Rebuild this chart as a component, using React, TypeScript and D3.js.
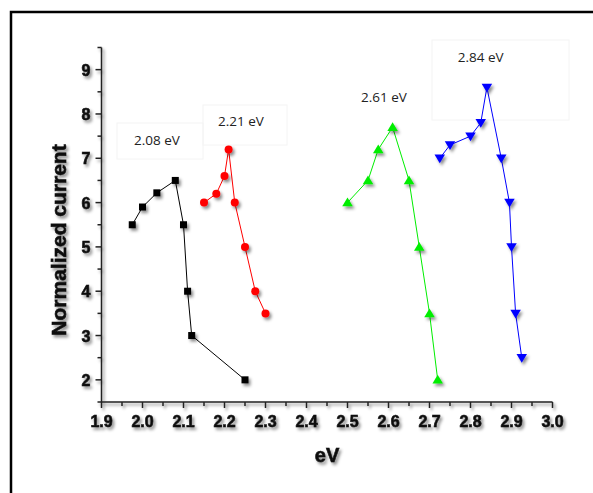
import React from "react";
import * as d3 from "d3";

const W = 593;
const H = 493;

const s208x = [1.975, 2.0, 2.035, 2.08, 2.1, 2.11, 2.12, 2.25];
const s208y = [5.5, 5.9, 6.22, 6.5, 5.5, 4.0, 3.0, 2.0];
const s221x = [2.15, 2.18, 2.2, 2.21, 2.225, 2.25, 2.275, 2.3];
const s221y = [6.0, 6.2, 6.6, 7.2, 6.0, 5.0, 4.0, 3.5];
const s261x = [2.5, 2.55, 2.575, 2.61, 2.65, 2.675, 2.7, 2.72];
const s261y = [6.0, 6.5, 7.2, 7.7, 6.5, 5.0, 3.5, 2.0];
const s284x = [2.725, 2.75, 2.8, 2.825, 2.84, 2.875, 2.895, 2.9, 2.91, 2.925];
const s284y = [7.0, 7.3, 7.5, 7.8, 8.6, 7.0, 6.0, 5.0, 3.5, 2.5];

const xTicks = [1.9, 2.0, 2.1, 2.2, 2.3, 2.4, 2.5, 2.6, 2.7, 2.8, 2.9, 3.0];
const yTicks = [2, 3, 4, 5, 6, 7, 8, 9];
const labels = ["2.08 eV", "2.21 eV", "2.61 eV", "2.84 eV"];
const labelPos = [
  [2.035, 7.29],
  [2.24, 7.72],
  [2.589, 8.28],
  [2.825, 9.18],
];

type Series = { xs: number[]; ys: number[]; color: string; shape: string };
const series: Series[] = [
  { xs: s208x, ys: s208y, color: "#000000", shape: "square" },
  { xs: s221x, ys: s221y, color: "#ff0000", shape: "circle" },
  { xs: s261x, ys: s261y, color: "#00ee00", shape: "up" },
  { xs: s284x, ys: s284y, color: "#0000ff", shape: "down" },
];

export default function App() {
  const x = d3.scaleLinear().domain([1.9, 3.0]).range([101.5, 552.5]);
  const y = d3.scaleLinear().domain([1.5, 9.5]).range([402, 47.5]);
  const line = d3
    .line<[number, number]>()
    .x((d) => x(d[0]))
    .y((d) => y(d[1]));
  const minorX = d3.range(0, 23).map((i) => 1.9 + i * 0.05);
  const minorY = d3.range(0, 17).map((i) => 1.5 + i * 0.5);
  const tri = (up: boolean) => {
    const s = 5;
    return up
      ? `M0,${-s} L${s * 1.05},${s * 0.75} L${-s * 1.05},${s * 0.75} Z`
      : `M0,${s} L${s * 1.05},${-s * 0.75} L${-s * 1.05},${-s * 0.75} Z`;
  };
  const font = "'Liberation Sans', Arial, sans-serif";
  return (
    <svg
      width={W}
      height={H}
      style={{ position: "absolute", left: 0, top: 0, background: "#fff" }}
    >
      <defs>
        <filter id="sh" x="-50%" y="-50%" width="200%" height="200%">
          <feDropShadow dx="2" dy="2.5" stdDeviation="1.8" floodColor="#000" floodOpacity="0.45" />
        </filter>
      </defs>
      <rect x={11} y={12} width={W + 20} height={H + 20} fill="none" stroke="#000" strokeWidth={2.5} />
      {/* faint label boxes */}
      <g stroke="#f4f4f4" strokeWidth={1} fill="none">
        <rect x={117} y={123} width={86} height={36} />
        <rect x={203} y={105} width={84} height={40} />
        <rect x={432} y={40} width={137} height={80} />
      </g>
      {/* axes */}
      <g filter="url(#sh)" stroke="#222" strokeWidth={1.5}>
        <line x1={x(1.9)} x2={x(1.9)} y1={y(9.5)} y2={y(1.5)} />
        <line x1={x(1.9)} x2={x(3.0)} y1={y(1.5)} y2={y(1.5)} />
        {minorX.map((v, i) => (
          <line key={"mx" + i} x1={x(v)} x2={x(v)} y1={y(1.5)} y2={y(1.5) + (i % 2 === 0 ? 6 : 4)} />
        ))}
        {minorY.map((v, i) => (
          <line key={"my" + i} x1={x(1.9)} x2={x(1.9) - (i % 2 === 1 ? 6 : 4)} y1={y(v)} y2={y(v)} />
        ))}
      </g>
      <g
        filter="url(#sh)"
        fontFamily={font}
        fontWeight="bold"
        fontSize={16}
        fill="#111"
        stroke="#111"
        strokeWidth={0.6}
      >
        {xTicks.map((v) => (
          <text key={"xt" + v} x={x(v)} y={427} textAnchor="middle">
            {v.toFixed(1)}
          </text>
        ))}
        {yTicks.map((v) => (
          <text key={"yt" + v} x={x(1.9) - 11} y={y(v) + 6} textAnchor="end">
            {v}
          </text>
        ))}
        <text x={327} y={462} textAnchor="middle" fontSize={20}>
          eV
        </text>
        <text
          transform={`translate(66,240) rotate(-90)`}
          textAnchor="middle"
          fontSize={21}
        >
          Normalized current
        </text>
      </g>
      {series.map((s, si) => {
        const pts: [number, number][] = s.xs.map((v, i) => [v, s.ys[i]]);
        return (
          <g key={si}>
            <path d={line(pts) || ""} fill="none" stroke={s.color} strokeWidth={1} />
            <g filter="url(#sh)" fill={s.color}>
              {pts.map((p, i) => {
                const cx = x(p[0]);
                const cy = y(p[1]);
                if (s.shape === "square")
                  return <rect key={i} x={cx - 3.5} y={cy - 3.5} width={7} height={7} />;
                if (s.shape === "circle") return <circle key={i} cx={cx} cy={cy} r={4} />;
                return (
                  <path key={i} d={tri(s.shape === "up")} transform={`translate(${cx},${cy})`} />
                );
              })}
            </g>
          </g>
        );
      })}
      <g fontFamily="'Open Sans', 'Liberation Sans', sans-serif" fontSize={13.5} fill="#222">
        {labels.map((l, i) => (
          <text key={l} x={x(labelPos[i][0])} y={y(labelPos[i][1])} textAnchor="middle">
            {l}
          </text>
        ))}
      </g>
    </svg>
  );
}
